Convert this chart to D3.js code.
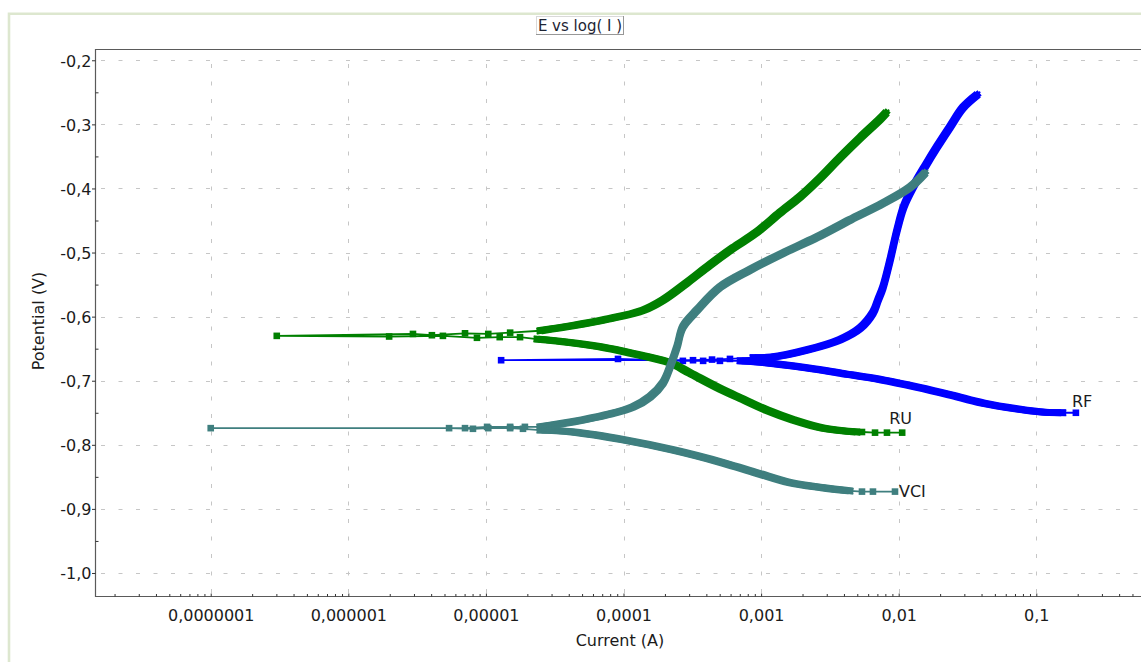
<!DOCTYPE html>
<html>
<head>
<meta charset="utf-8">
<script src="https://cdn.jsdelivr.net/npm/d3@7"></script>
<style>
  html, body { margin: 0; padding: 0; background: #fff; overflow: hidden; }
  svg { display: block; }
  text { font-family: "DejaVu Sans", Verdana, sans-serif; }
</style>
</head>
<body>
<svg id="chart" width="1141" height="662"></svg>
<script>
// ---------------------------------------------------------------
// Tafel polarisation scans: each point is [current (A), potential (V)]
// Scan order: cathodic start -> cathodic branch -> around Ecorr -> anodic branch
// ---------------------------------------------------------------

// RU
const ruStart    = [[1.06e-2, -0.781], [8.22e-3, -0.781], [6.73e-3, -0.781], [5.41e-3, -0.780]];
const ruCathodic = [[4.98e-3, -0.780], [2.82e-3, -0.774], [1.71e-3, -0.761], [1.10e-3, -0.746],
                    [7.03e-4, -0.727], [4.77e-4, -0.710], [3.04e-4, -0.688], [2.18e-4, -0.672],
                    [1.32e-4, -0.660], [7.59e-5, -0.649], [4.30e-5, -0.641], [2.35e-5, -0.635]];
const ruEcorr    = [[1.77e-5, -0.632], [1.26e-5, -0.632], [8.61e-6, -0.633], [4.87e-6, -0.630],
                    [1.98e-6, -0.631], [3.02e-7, -0.630], [2.95e-6, -0.627], [4.05e-6, -0.629],
                    [7.05e-6, -0.626], [1.04e-5, -0.627], [1.50e-5, -0.625]];
const ruAnodic   = [[2.47e-5, -0.622], [4.30e-5, -0.614], [7.59e-5, -0.604], [1.39e-4, -0.590],
                    [1.94e-4, -0.574], [2.89e-4, -0.547], [4.26e-4, -0.519], [6.25e-4, -0.493],
                    [9.33e-4, -0.468], [1.37e-3, -0.438], [1.92e-3, -0.413], [2.68e-3, -0.384],
                    [3.74e-3, -0.352], [5.24e-3, -0.321], [7.31e-3, -0.292], [8.09e-3, -0.282]];

// RF
const rfStart    = [[0.194, -0.750]];
const rfCathodic = [[0.156, -0.750], [0.112, -0.749], [7.24e-2, -0.744], [4.10e-2, -0.735],
                    [2.36e-2, -0.722], [1.36e-2, -0.710], [7.69e-3, -0.699], [3.74e-3, -0.688],
                    [2.16e-3, -0.680], [9.82e-4, -0.671], [7.03e-4, -0.669]];
const rfEcorr    = [[5.02e-4, -0.669], [3.79e-4, -0.669], [2.70e-4, -0.669], [9.12e-5, -0.666],
                    [1.29e-5, -0.668], [3.20e-4, -0.668], [4.40e-4, -0.667], [5.94e-4, -0.666]];
const rfAnodic   = [[8.73e-4, -0.664], [1.22e-3, -0.663], [2.16e-3, -0.652], [3.74e-3, -0.636],
                    [5.24e-3, -0.618], [6.50e-3, -0.594], [7.08e-3, -0.574], [7.69e-3, -0.554],
                    [8.65e-3, -0.512], [9.73e-3, -0.465], [1.09e-2, -0.428], [1.27e-2, -0.398],
                    [1.55e-2, -0.366], [1.90e-2, -0.335], [2.36e-2, -0.304], [2.93e-2, -0.274],
                    [3.71e-2, -0.254]];

// VCI
const vciStart    = [[9.40e-3, -0.873], [6.50e-3, -0.873], [5.41e-3, -0.873]];
const vciCathodic = [[4.43e-3, -0.872], [2.82e-3, -0.867], [1.62e-3, -0.859], [9.33e-4, -0.844],
                     [5.28e-4, -0.828], [2.29e-4, -0.808], [9.90e-5, -0.792], [4.30e-5, -0.780],
                     [2.47e-5, -0.777]];
const vciEcorr    = [[1.86e-5, -0.775], [1.50e-5, -0.774], [1.04e-5, -0.774], [8.05e-6, -0.775],
                     [5.40e-6, -0.774], [1.0e-7, -0.774], [7.05e-6, -0.774], [1.02e-5, -0.772],
                     [1.50e-5, -0.772], [1.92e-5, -0.772]];
const vciAnodic   = [[2.47e-5, -0.772], [4.30e-5, -0.764], [7.59e-5, -0.753], [1.17e-4, -0.741],
                     [1.56e-4, -0.725], [1.94e-4, -0.703], [2.18e-4, -0.678], [2.45e-4, -0.647],
                     [2.70e-4, -0.616], [3.42e-4, -0.590], [5.02e-4, -0.554], [8.30e-4, -0.527],
                     [1.44e-3, -0.501], [2.55e-3, -0.476], [4.43e-3, -0.449], [7.69e-3, -0.423],
                     [1.21e-2, -0.398], [1.55e-2, -0.376]];

const seriesNames = ["RF", "RU", "VCI"];

// Axes
const xDomain = [1.442e-8, 0.5768];
const yDomain = [-1.0359, -0.1824];
const yTicks = [-0.2, -0.3, -0.4, -0.5, -0.6, -0.7, -0.8, -0.9, -1.0];
const yTickLabels = ["-0,2", "-0,3", "-0,4", "-0,5", "-0,6", "-0,7", "-0,8", "-0,9", "-1,0"];
const xTicks = [1e-7, 1e-6, 1e-5, 1e-4, 1e-3, 1e-2, 1e-1];
const xTickLabels = ["0,0000001", "0,000001", "0,00001", "0,0001", "0,001", "0,01", "0,1"];
const chartTitle = "E vs log( I )";
const xTitle = "Current (A)";
const yTitle = "Potential (V)";

// ---------------------------------------------------------------
const W = 1141, H = 662;
const plot = { left: 95, top: 49, right: 1141, bottom: 596 };

const svg = d3.select("#chart");
svg.append("rect").attr("width", W).attr("height", H).attr("fill", "#fff");

// pale outer panel frame
svg.append("path")
  .attr("d", `M9,${H} V13.7 H${W}`)
  .attr("fill", "none").attr("stroke", "#dde7cf").attr("stroke-width", 2.6);

const x = d3.scaleLog().domain(xDomain).range([plot.left, plot.right]);
const y = d3.scaleLinear().domain(yDomain).range([plot.bottom, plot.top]);

// dashed grid
const grid = svg.append("g")
  .attr("stroke", "#c6c6c6").attr("stroke-width", 1)
  .attr("stroke-dasharray", "4,13.5").attr("fill", "none");
yTicks.forEach(v => {
  const yy = Math.round(y(v)) + 0.5;
  grid.append("line").attr("x1", plot.left + 6).attr("x2", plot.right).attr("y1", yy).attr("y2", yy);
});
xTicks.forEach(v => {
  const xx = Math.round(x(v)) + 0.5;
  grid.append("line").attr("x1", xx).attr("x2", xx).attr("y1", plot.top + 15).attr("y2", plot.bottom);
});

// frame lines
svg.append("path")
  .attr("d", `M${plot.right},${plot.top + 0.5} H${plot.left + 0.5} V${plot.bottom + 0.5} H${plot.right}`)
  .attr("fill", "none").attr("stroke", "#5a5a5a").attr("stroke-width", 1.2);

// left axis
const yAxis = d3.axisLeft(y).tickValues(yTicks)
  .tickFormat((d, i) => yTickLabels[i]).tickSizeInner(3.5).tickSizeOuter(0).tickPadding(0.5);
const gy = svg.append("g").attr("transform", `translate(${plot.left + 0.5},0)`).call(yAxis);
gy.select(".domain").remove();
gy.selectAll(".tick line").attr("stroke", "#333");
gy.selectAll("text").attr("font-size", 16).attr("fill", "#1b1b1b").attr("dy", "0.36em")
  .attr("font-family", "DejaVu Sans, Verdana, sans-serif");

const yMinor = d3.range(yTicks.length - 1).map(i => (yTicks[i] + yTicks[i + 1]) / 2);
const gym = svg.append("g").attr("transform", `translate(${plot.left + 0.5},0)`)
  .call(d3.axisLeft(y).tickValues(yMinor).tickFormat("").tickSizeInner(-3).tickSizeOuter(0));
gym.select(".domain").remove();
gym.selectAll(".tick line").attr("stroke", "#333");

// bottom axis
const xAxis = d3.axisBottom(x).tickValues(xTicks)
  .tickFormat((d, i) => xTickLabels[i]).tickSizeInner(-3).tickSizeOuter(0).tickPadding(12.8);
const gx = svg.append("g").attr("transform", `translate(0,${plot.bottom + 0.5})`).call(xAxis);
gx.select(".domain").remove();
gx.selectAll(".tick line").attr("stroke", "#333");
gx.selectAll("text").attr("font-size", 16).attr("fill", "#1b1b1b")
  .attr("font-family", "DejaVu Sans, Verdana, sans-serif");

const xMinor = [];
for (let e = -8; e <= 0; e++) for (let k = 2; k <= 9; k++) {
  const v = k * Math.pow(10, e);
  if (v > xDomain[0] && v < xDomain[1]) xMinor.push(v);
}
const gxm = svg.append("g").attr("transform", `translate(0,${plot.bottom + 0.5})`)
  .call(d3.axisBottom(x).tickValues(xMinor).tickFormat("").tickSizeInner(-2.5).tickSizeOuter(0));
gxm.select(".domain").remove();
gxm.selectAll(".tick line").attr("stroke", "#333");

// axis titles
svg.append("text").attr("x", 620).attr("y", 645.5).attr("text-anchor", "middle")
  .attr("font-size", 16).attr("fill", "#1b1b1b").text(xTitle);
svg.append("text").attr("transform", "translate(44,321) rotate(-90)").attr("text-anchor", "middle")
  .attr("font-size", 16).attr("fill", "#1b1b1b").text(yTitle);

// title with its box
const tb = svg.append("g");
tb.append("rect").attr("x", 536.5).attr("y", 16.5).attr("width", 87).attr("height", 18)
  .attr("fill", "#fff").attr("stroke", "#d9d9d9");
tb.append("path").attr("d", "M623.5,16.5 V34.5 H536.5").attr("fill", "none")
  .attr("stroke", "#555").attr("stroke-dasharray", "1,1");
tb.append("text").attr("x", 580).attr("y", 31).attr("text-anchor", "middle")
  .attr("font-size", 15).attr("fill", "#1e2433").text(chartTitle);

// curves
svg.append("clipPath").attr("id", "plotClip").append("rect")
  .attr("x", plot.left + 1).attr("y", plot.top + 1)
  .attr("width", plot.right - plot.left).attr("height", plot.bottom - plot.top - 1);

const series = [
  { name: seriesNames[0], color: "#0000ff", start: rfStart,  cath: rfCathodic,  ecorr: rfEcorr,  anod: rfAnodic,  dx: -4,  dy: -6 },
  { name: seriesNames[1], color: "#008000", start: ruStart,  cath: ruCathodic,  ecorr: ruEcorr,  anod: ruAnodic,  dx: -13, dy: -9 },
  { name: seriesNames[2], color: "#3f7f7f", start: vciStart, cath: vciCathodic, ecorr: vciEcorr, anod: vciAnodic, dx: 4,   dy: 5 }
];

const thin = d3.line().x(d => x(d[0])).y(d => y(d[1]));
const band = d3.line().x(d => x(d[0])).y(d => y(d[1])).curve(d3.curveCatmullRom.alpha(0.5));

// densely sampled branches: square markers merge into a band, so the band is
// drawn as a centre stroke plus four copies shifted to the square's corners
const m = 6.6;
const corner = 2.5;
const offsets = [[0, 0, m], [-corner, -corner, 1.8], [corner, -corner, 1.8], [-corner, corner, 1.8], [corner, corner, 1.8]];

const gc = svg.append("g").attr("clip-path", "url(#plotClip)");
series.forEach(s => {
  const g = gc.append("g");
  const all = [...s.start, ...s.cath, ...s.ecorr, ...s.anod];
  g.append("path").attr("d", thin(all)).attr("fill", "none")
    .attr("stroke", s.color).attr("stroke-width", 1.8);
  [s.cath, s.anod].forEach(b => {
    const d = band(b);
    offsets.forEach(([ox, oy, w]) => {
      g.append("path").attr("d", d).attr("transform", `translate(${ox},${oy})`)
        .attr("fill", "none").attr("stroke", s.color).attr("stroke-width", w)
        .attr("stroke-linejoin", "round").attr("stroke-linecap", "square");
    });
  });
  g.selectAll("rect.mk").data([...s.start, ...s.ecorr]).join("rect").attr("class", "mk")
    .attr("x", d => x(d[0]) - m / 2).attr("y", d => y(d[1]) - m / 2)
    .attr("width", m).attr("height", m).attr("fill", s.color);
});

// series labels next to each scan's starting point
series.forEach(s => {
  const p = s.start[0];
  svg.append("text").attr("x", x(p[0]) + s.dx).attr("y", y(p[1]) + s.dy)
    .attr("font-size", 16).attr("fill", "#1b1b1b").text(s.name);
});
</script>
</body>
</html>
